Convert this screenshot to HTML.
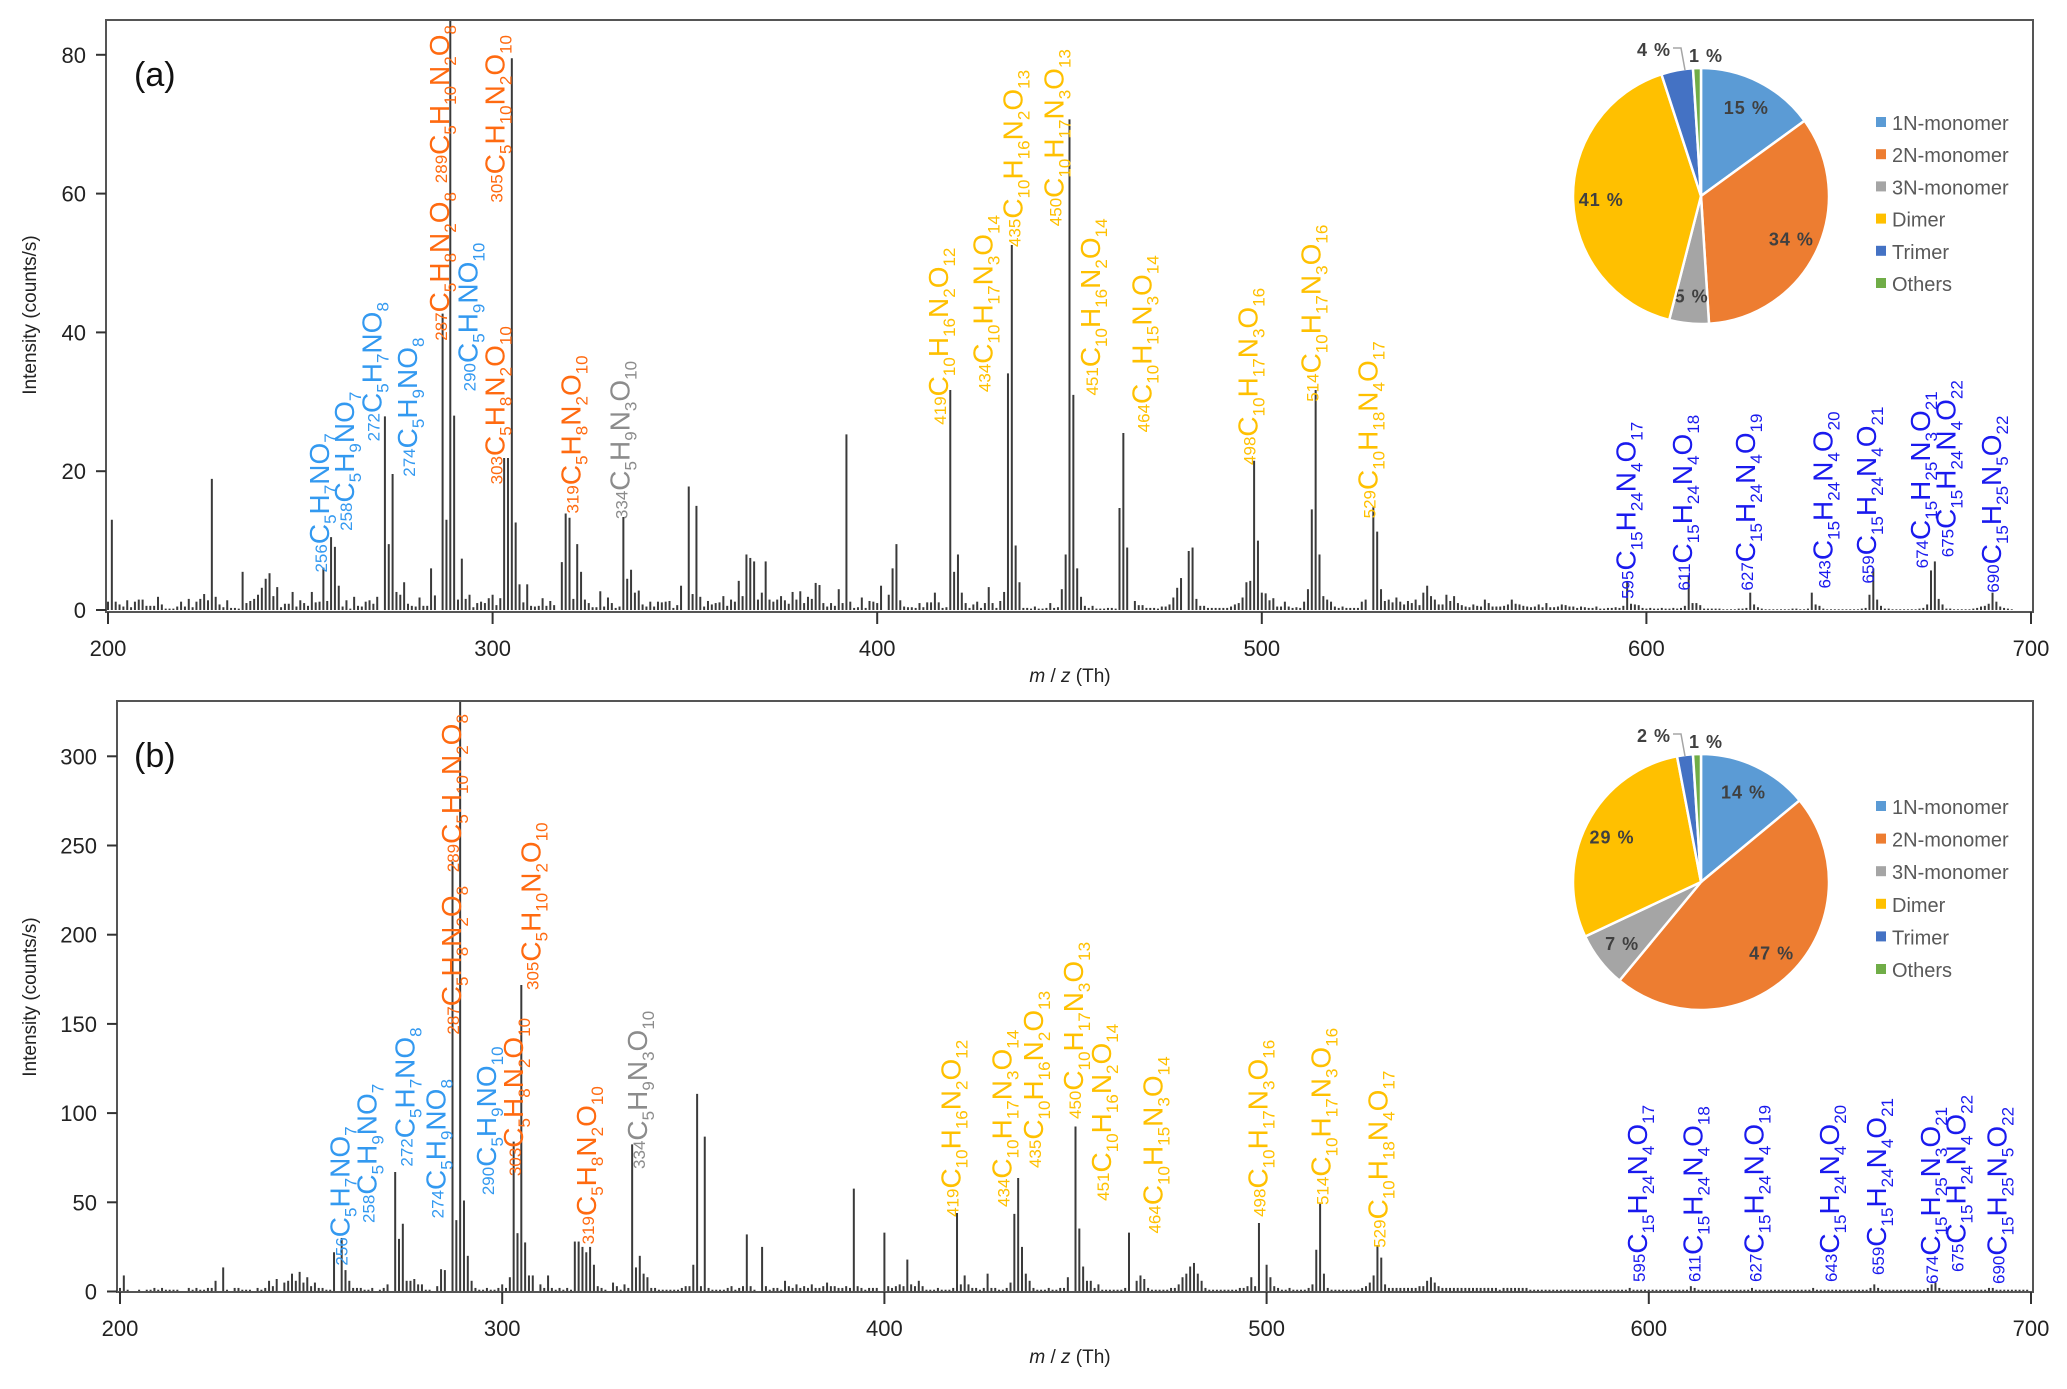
<!DOCTYPE html>
<html><head><meta charset="utf-8">
<style>
html,body{margin:0;padding:0;background:#fff;}
svg{display:block;font-family:"Liberation Sans",Arial,sans-serif;}
</style></head>
<body>
<svg id="chart" width="2067" height="1389" viewBox="0 0 2067 1389" xmlns="http://www.w3.org/2000/svg"></svg>
<script>
// ---------- DATA ----------
const mzStart = 200;
const noiseA = [
1.2,0,1.2,0.8,0.5,1.4,0.4,1.2,1.5,1.5, 0.6,0.6,0.6,1.9,0.8,0.2,0.2,0.2,0.5,1.2,
0.5,1.6,0.4,1.2,1.6,2.3,1.4,0,1.9,0.8, 0.4,1.4,0.3,0.3,0.2,0,1.0,1.3,1.6,2.2,
3.2,0,2.1,2.0,3.2,0.4,0.9,0.9,2.6,0.5, 1.4,1.0,0.6,2.6,1.1,1.2,0,1.3,0,0,
1.2,0.5,1.4,0.2,1.9,0.6,0.5,1.2,1.4,0.9, 1.9,0,0,0,0,2.6,2.2,0,0.9,0.6,
0.5,1.8,0.6,0.6,0,2.1,0,0,0,0, 0,1.5,0,1.6,2.2,0.4,1.0,1.2,1.0,1.7,
2.2,0.7,1.7,0,0,0,0,0,1.1,0, 0.6,0.5,0.6,1.7,0.6,1.3,0.7,0,0,0,
0,1.6,0,0,1.5,1.0,0.4,0.4,2.7,0.5, 1.8,1.0,0.3,0.5,0,0,0,2.5,2.8,0.8,
0.5,1.2,0.5,1.2,1.1,1.2,1.3,0.3,0.7,3.5, 0,0,2.3,0,1.9,0.5,1.3,0.8,1.0,1.1,
2.0,0.6,1.5,1.2,4.2,2.0,0,0,0,1.5, 2.5,0,1.5,1.2,1.5,2.0,1.4,0.9,2.6,1.5,
2.7,1.0,1.9,1.6,3.9,3.6,1.0,0.5,1.0,0.6, 3.0,1.0,0,1.2,0.3,0.4,1.8,0.3,1.3,1.2,
1.0,3.5,0,2.2,0,0,1.4,0.5,0.4,0.4, 0.3,1.0,0.4,1.1,1.1,2.5,1.1,0.3,0.4,0,
0,0,2.5,1.0,0.3,0.8,1.2,0.3,1.0,3.3, 1.0,0.3,1.3,2.6,0,0,0,1.1,0.3,0.3,
0.2,0.5,0.2,0.2,0.3,1.0,0.3,0.4,3.0,0, 0,0,0,1.9,0.6,0.3,0.6,0.2,0.2,0.2,
0.3,0.3,0.2,0.8,0,0,0,1.3,0.7,0.7, 0.3,0.3,0.3,0.2,0.5,0.5,0.8,1.8,3.2,4.6,
0,0,3.4,1.6,0.6,0.6,0.3,0.3,0.3,0.3, 0.3,0.3,0.5,0.8,1.0,1.8,4.0,0,0,0,
2.5,2.4,1.4,1.7,0.5,0.5,1.2,0.5,0.3,0.4, 0.3,1.2,3.0,0,0,0,2.0,1.5,1.2,0.5,
0.3,0.5,0.3,0.3,0.3,0.3,1.2,1.5,0,0, 0,3.0,1.3,1.5,1.1,1.8,1.2,0.8,1.3,1.0,
1.5,0.7,2.5,3.5,2.0,1.5,0.8,0.8,2.2,1.3, 2.0,1.0,0.7,0.5,0.4,0.8,0.6,0.5,1.5,1.0,
0.5,0.5,0.5,0.6,0.8,1.5,0.9,0.8,0.6,0.5, 0.4,0.5,0.8,0.4,1.0,0.4,0.4,0.5,0.8,0.7,
0.5,0.5,0.3,0.5,0.4,0.3,0.3,0.5,0.2,0.2, 0.3,0.3,0.4,0.3,0.6,0,0.9,0.8,0.7,0.3,
0.2,0.3,0.2,0.2,0.3,0.2,0.2,0.3,0.2,0.3, 0.6,0,1.0,1.0,0.7,0.2,0.2,0.2,0.2,0.2,
0.1,0.1,0.1,0.1,0.2,0.2,0.3,0,0.8,0.4, 0.2,0.1,0.1,0.1,0.1,0.1,0.1,0.1,0.2,0.2,
0.1,0.1,0.2,0,0.8,0.6,0.2,0.1,0.1,0.1, 0.1,0.1,0.1,0.1,0.1,0.1,0.2,0.3,0,0,
1.5,0.6,0.2,0.2,0.1,0.1,0.1,0.1,0.1,0.1, 0.1,0.2,0.3,0.8,0,0,1.6,0.8,0.2,0.2,
0.1,0.1,0.1,0.1,0.1,0.2,0.3,0.5,0.6,0.9, 0,1.2,0.5,0.3,0.2,0.1,0,0,0,0];
const noiseB = [
2,0,1,0,0,1,0,1,1,2, 1,2,1,1,1,1,0,0,2,1, 2,1,1,2,2,6,0,0,1,0, 2,2,1,1,1,0,2,1,2,6,
3,7,0,5,6,10,6,11,5,8, 3,5,2,2,1,1,0,0,0,0, 6,2,2,2,1,1,2,0,1,2, 4,0,0,0,0,6,6,7,4,4,
1,1,0,3,0,0,0,0,0,0, 0,0,6,2,1,1,2,1,1,2, 4,2,8,0,0,0,0,0,9,0, 4,2,9,2,1,2,1,2,1,5,
0,25,0,0,0,3,2,1,0,5, 3,1,4,2,0,0,0,0,0,2, 2,1,1,1,1,1,1,2,3,3, 15,0,3,0,2,1,1,1,1,2,
3,1,2,3,32,3,1,0,25,3, 1,2,2,1,6,3,2,4,2,3, 2,4,2,2,3,5,3,3,2,2, 3,2,0,3,2,1,2,2,2,0,
4,3,2,3,4,3,0,4,3,6, 3,1,1,1,2,1,1,1,2,0, 4,9,4,2,2,1,2,10,2,2, 1,1,2,5,0,0,25,10,6,2,
1,1,1,2,1,1,2,2,8,0, 0,0,14,6,6,2,4,1,1,1, 1,1,1,2,12,0,6,9,7,2, 1,1,1,1,1,2,2,4,8,10,
14,16,10,6,2,1,1,1,1,1, 1,1,1,2,2,3,8,3,0,0, 15,8,3,2,1,1,2,1,1,1, 1,2,4,0,0,10,2,1,1,1,
1,1,1,1,1,2,3,5,9,0, 0,4,2,2,2,2,2,2,2,2, 3,3,6,8,5,3,2,2,2,2, 2,2,2,2,2,2,2,2,2,2,
2,1,2,2,2,2,2,2,2,1, 1,1,1,1,1,1,1,1,1,1, 1,1,1,1,1,1,1,1,1,1, 1,1,1,1,1,2,1,1,1,1,
1,1,1,1,1,1,1,1,1,1, 1,3,2,1,1,1,1,1,1,1, 1,1,1,1,1,1,1,2,1,1, 1,1,1,1,1,1,1,1,1,1,
1,1,1,2,1,1,1,1,1,1, 1,1,1,1,1,1,1,1,2,4, 2,1,1,1,1,1,1,1,1,1, 1,1,1,2,4,5,2,1,1,1,
1,1,1,1,1,1,1,1,1,2, 2,1,1,1,1,1,1,1,1,1];

const peakMzA = [201,227,235,241,242,244,256,258,259,260,272,273,274,277,284,287,288,289,290,292,303,304,305,306,307,309,318,319,320,322,323,334,335,336,351,353,366,367,368,371,392,404,405,419,420,421,434,435,436,437,449,450,451,452,463,464,465,481,482,497,498,499,513,514,515,529,530,595,611,627,643,658,659,674,675,690];
const peakValA = [13,18.9,5.5,4.5,5.3,3.3,6.1,10.5,9.1,3.5,27.9,9.5,19.6,4,6,42.7,13,85,28,7.4,21.9,21.9,79.5,12.6,3.7,3.7,6.9,13.9,13.3,9.5,5.5,13.4,4.5,5.8,17.8,15,8,7.5,7,7,25.3,6,9.5,31.7,5.5,8,34.1,52.6,9.3,4,8,70.7,31,6,14.7,25.5,9,8.5,9,4.2,21.5,10,14.5,31.7,8,14.8,11.3,4,5,2.5,2.5,2.2,6,5.7,7,2.5];
const peakMzB = [201,227,256,258,259,272,273,274,284,285,287,288,289,290,291,303,304,305,306,307,319,320,322,323,324,334,335,336,337,338,351,353,392,400,406,419,434,435,450,451,464,498,513,514,529,530];
const peakValB = [9,13.5,22,30,12,67,29.5,38,12.5,12,241,40,331,51,20,84,32.7,171.8,27.5,9,28,28,22,25,15,82.5,13.5,20,10,8,110.8,86.8,57.7,33,17.9,44,43.5,63.6,92.5,35.3,33,38.4,23.4,49.2,26,19];

// annotation labels: [prefix, formula, class, labelX (m/z), labelStart (intensity)]
const labelsA = [
["256","C5H7NO7","n1",257.5,5.4],["258","C5H9NO7","n1",264,11.4],["272","C5H7NO8","n1",271.1,24.3],["274","C5H9NO8","n1",280.4,19.2],
["287","C5H8N2O8","n2",288.6,38.8],["289","C5H10N2O8","n2",288.6,61.5],["290","C5H9NO10","n1",296.1,31.5],["303","C5H8N2O10","n2",303.1,18.1],
["305","C5H10N2O10","n2",303.1,58.7],["319","C5H8N2O10","n2",322.8,13.9],["334","C5H9N3O10","n3",335.6,13.1],
["419","C10H16N2O12","di",418.4,26.7],["434","C10H17N3O14","di",430,31.4],["435","C10H16N2O13","di",437.8,52.3],["450","C10H17N3O13","di",448.5,55.3],
["451","C10H16N2O14","di",457.9,30.9],["464","C10H15N3O14","di",471.3,25.6],["498","C10H17N3O16","di",498.9,20.9],["514","C10H17N3O16","di",515.3,30],
["529","C10H18N4O17","di",530.1,13.2],
["595","C15H24N4O17","tr",597.2,1.6],["611","C15H24N4O18","tr",611.8,2.8],["627","C15H24N4O19","tr",628.2,2.8],["643","C15H24N4O20","tr",648.4,3.1],
["659","C15H24N4O21","tr",659.7,3.8],["674","C15H25N3O21","tr",673.8,6],["675","C15H24N4O22","tr",680.4,7.6],["690","C15H25N5O22","tr",692.2,2.5]];
const labelsB = [
["256","C5H7NO7","n1",260.1,14.5],["258","C5H9NO7","n1",267.1,38.4],["272","C5H7NO8","n1",277,70],["274","C5H9NO8","n1",285.1,41],
["287","C5H8N2O8","n2",289.2,144],["289","C5H10N2O8","n2",289.2,235],["290","C5H9NO10","n1",298.4,54],["303","C5H8N2O10","n2",305.4,64.7],
["305","C5H10N2O10","n2",310,169],["319","C5H8N2O10","n2",324.6,26.4],["334","C5H9N3O10","n3",337.9,68.7],
["419","C10H16N2O12","di",419.9,41.8],["434","C10H17N3O14","di",433.3,47.4],["435","C10H16N2O13","di",441.5,69.2],["450","C10H17N3O13","di",452,96.7],
["451","C10H16N2O14","di",459.3,50.8],["464","C10H15N3O14","di",472.7,32.5],["498","C10H17N3O16","di",500.3,41.8],["514","C10H17N3O16","di",516.7,48.5],
["529","C10H18N4O17","di",531.6,24.5],
["595","C15H24N4O17","tr",599.5,5.3],["611","C15H24N4O18","tr",614,5.3],["627","C15H24N4O19","tr",630,5.3],["643","C15H24N4O20","tr",649.8,5.3],
["659","C15H24N4O21","tr",662,9.2],["674","C15H25N3O21","tr",676.2,4.2],["675","C15H24N4O22","tr",682.8,10.9],["690","C15H25N5O22","tr",693.6,4.2]];

const xTicks = [200,300,400,500,600,700];
const yTicksA = [0,20,40,60,80];
const yTicksB = [0,50,100,150,200,250,300];
const pieCats = ["1N-monomer","2N-monomer","3N-monomer","Dimer","Trimer","Others"];
const pieA = [15,34,5,41,4,1];
const pieB = [14,47,7,29,2,1];

const labelColors = {n1:"#3399f0", n2:"#ff6a10", n3:"#8c8c8c", di:"#ffc000", tr:"#1a1aee"};
const pieColors = ["#5b9bd5","#ed7d31","#a5a5a5","#ffc000","#4472c4","#70ad47"];

// ---------- DRAWING ----------
const NS = "http://www.w3.org/2000/svg";
const svg = document.getElementById("chart");
function mk(tag, attrs, parent){
  const e = document.createElementNS(NS, tag);
  for (const k in attrs) e.setAttribute(k, attrs[k]);
  (parent||svg).appendChild(e);
  return e;
}

function drawPanel(cfg){
  const g = mk("g", {});
  
  
  const X = v => cfg.x0 + (v - 200) * cfg.kx;
  const Y = v => Math.max(cfg.top, cfg.y0 - v * cfg.ky);

  // bars: noise then main peaks
  const vals = cfg.noise.slice();
  cfg.peakMz.forEach((m,i)=>{ vals[m - mzStart] = cfg.peakVal[i]; });
  const bars = mk("g", {stroke:"#3a3a3a","stroke-width":"2"}, g);
  
  
  vals.forEach((v,i)=>{
    if (v <= 0) return;
    const ln = mk("line", {x1:X(mzStart+i), x2:X(mzStart+i), y1:cfg.y0, y2:Y(v)}, bars);
    
    
  });

  // frame
  const fr = mk("rect", {x:cfg.left, y:cfg.top, width:cfg.right-cfg.left, height:cfg.bottom-cfg.top, fill:"none", stroke:"#555", "stroke-width":"2"}, g);
  
  

  // x ticks
  xTicks.forEach(t=>{
    mk("line", {x1:X(t), x2:X(t), y1:cfg.bottom, y2:cfg.bottom+12, stroke:"#333","stroke-width":"2"}, g);
    const tx = mk("text", {x:X(t), y:cfg.bottom+44, "text-anchor":"middle","font-size":"22", fill:"#222"}, g);
    tx.textContent = t;
    
    
  });
  // y ticks
  cfg.yTicks.forEach(t=>{
    const yy = cfg.y0 - t*cfg.ky;
    mk("line", {x1:cfg.left-10, x2:cfg.left, y1:yy, y2:yy, stroke:"#333","stroke-width":"2"}, g);
    const tx = mk("text", {x:cfg.left-20, y:yy+8, "text-anchor":"end","font-size":"22", fill:"#222"}, g);
    tx.textContent = t;
    
    
  });
  // axis titles
  const xt = mk("text", {x:1070, y:cfg.xTitleY, "text-anchor":"middle","font-size":"19", fill:"#222"}, g);
  xt.innerHTML = '<tspan font-style="italic">m</tspan> / <tspan font-style="italic">z</tspan> (Th)';
  
  
  const yt = mk("text", {x:0, y:0, transform:`translate(36,${cfg.yTitleY}) rotate(-90)`, "text-anchor":"middle","font-size":"19", fill:"#222"}, g);
  yt.textContent = "Intensity (counts/s)";
  
  
  const pl = mk("text", {x:134, y:cfg.top+66, "font-size":"34", fill:"#111"}, g);
  pl.textContent = cfg.tag;
  
  

  // annotation labels
  cfg.labels.forEach(L=>{
    const [pre, form, cls, lx, ly] = L;
    const t = mk("text", {transform:`translate(${X(lx)},${cfg.y0 - ly*cfg.ky}) rotate(-90)`, fill:labelColors[cls], "font-size":"28"}, g);
    
    
    let html = `<tspan font-size="17" dy="-2">${pre}</tspan>`;
    let first = true, shifted = true;
    const parts = form.match(/[A-Z][a-z]?|\d+/g);
    parts.forEach(p=>{
      if (/\d/.test(p)) {
        html += `<tspan font-size="17" dy="${shifted?0:7}">${p}</tspan>`;
        shifted = true;
      } else {
        html += `<tspan dy="${shifted?(first?2:-7):0}">${p}</tspan>`;
        shifted = false;
      }
      first = false;
    });
    t.innerHTML = html;
  });

  // pie
  const pg = mk("g", {}, g);
  
  
  const cx = 1701, cy = cfg.pieCy, r = 128;
  const total = cfg.pie.reduce((a,b)=>a+b,0);
  let acc = 0;
  cfg.pie.forEach((v,i)=>{
    const a0 = acc/total*2*Math.PI; acc += v; const a1 = acc/total*2*Math.PI;
    const p0 = [cx + r*Math.sin(a0), cy - r*Math.cos(a0)], p1 = [cx + r*Math.sin(a1), cy - r*Math.cos(a1)];
    const large = (a1-a0) > Math.PI ? 1 : 0;
    const s = mk("path", {d:`M${cx},${cy} L${p0[0]},${p0[1]} A${r},${r} 0 ${large} 1 ${p1[0]},${p1[1]} Z`, fill:pieColors[i], stroke:"#fff","stroke-width":"2.5"}, pg);
    
    
    const am = (a0+a1)/2;
    let lx, ly, anchor = "middle";
    if (v >= 5) { lx = cx + 0.78*r*Math.sin(am); ly = cy - 0.78*r*Math.cos(am) + 7; }
    else if (i === 4) { lx = cx - 30; ly = cy - r - 12; anchor = "end";
      mk("polyline", {points:`${cx-28},${cy-r-20} ${cx-20},${cy-r-20} ${cx-16},${cy-r+2}`, fill:"none", stroke:"#a5a5a5","stroke-width":"1.5"}, pg); }
    else { lx = cx - 12; ly = cy - r - 6; anchor = "start"; }
    const pt = mk("text", {x:lx, y:ly, "text-anchor":anchor, "font-size":"18", "font-weight":"bold", fill:"#404040", "letter-spacing":"1"}, pg);
    pt.textContent = v + " %";
    
    
  });
  // legend
  pieCats.forEach((c,i)=>{
    const ly = cfg.legTop + i*cfg.legStep;
    const sq = mk("rect", {x:1876, y:ly-6, width:10, height:10, fill:pieColors[i]}, pg);
    
    
    const lt = mk("text", {x:1892, y:ly+7, "font-size":"20", fill:"#595959"}, pg);
    lt.textContent = c;
    
    
  });
}

drawPanel({name:"panel-a", tag:"(a)", x0:108, kx:3.846, y0:610, ky:6.94, top:20, bottom:612, left:106, right:2033,
  noise:noiseA, peakMz:peakMzA, peakVal:peakValA, labels:labelsA, yTicks:yTicksA,
  xTitleY:682, yTitleY:315, pie:pieA, pieCy:196, legTop:123, legStep:32.2});
drawPanel({name:"panel-b", tag:"(b)", x0:120, kx:3.822, y0:1291.5, ky:1.784, top:701, bottom:1292, left:117, right:2033,
  noise:noiseB, peakMz:peakMzB, peakVal:peakValB, labels:labelsB, yTicks:yTicksB,
  xTitleY:1363, yTitleY:997, pie:pieB, pieCy:882, legTop:807, legStep:32.6});
</script>
</body></html>
